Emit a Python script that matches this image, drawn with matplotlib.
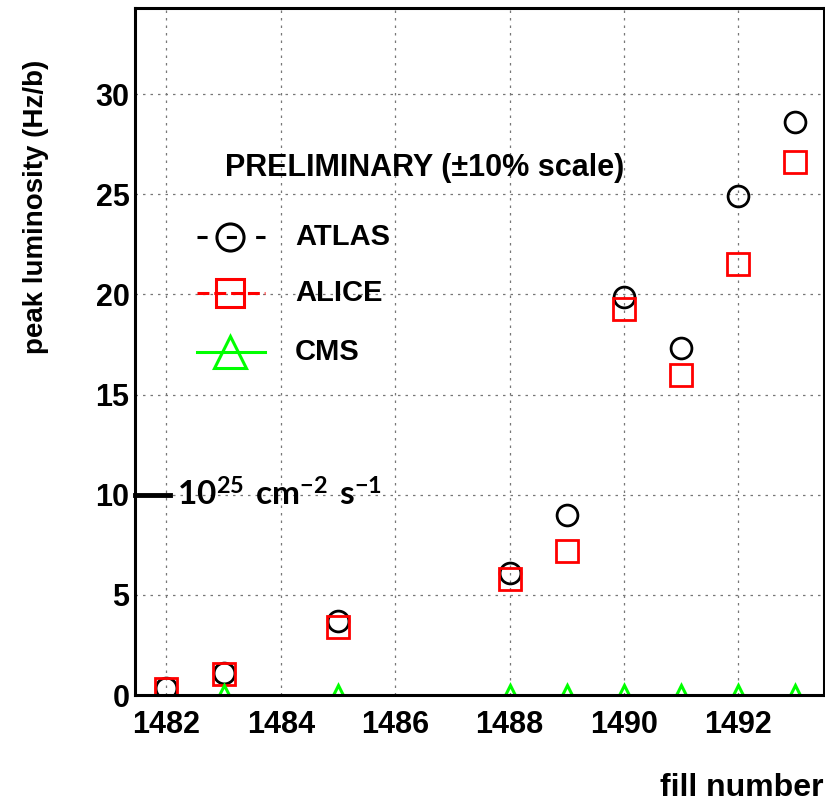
import matplotlib
matplotlib.use("Agg")
import matplotlib.pyplot as plt

fills = [1482, 1483, 1485, 1488, 1489, 1490, 1491, 1492, 1493]
atlas = [0.35, 1.1, 3.7, 6.1, 9.0, 19.85, 17.3, 24.9, 28.6]
alice = [0.3, 1.05, 3.4, 5.8, 7.2, 19.25, 16.0, 21.5, 26.6]
cms_fills = [1483, 1485, 1488, 1489, 1490, 1491, 1492, 1493]
cms = [0.0, 0.0, 0.0, 0.0, 0.0, 0.0, 0.0, 0.0]

x_ticks = [1482, 1484, 1486, 1488, 1490, 1492]
y_ticks = [0, 5, 10, 15, 20, 25, 30]

plt.rcParams["font.family"] = ["Liberation Sans", "DejaVu Sans"]
plt.rcParams["font.weight"] = "bold"
plt.rcParams["mathtext.fontset"] = "custom"
plt.rcParams["mathtext.rm"] = "Lato:bold"
plt.rcParams["mathtext.bf"] = "Lato:bold"

GREEN = "#00ff00"

fig = plt.figure(figsize=(8.25, 8.05), dpi=100)
ax = fig.add_axes([135 / 825, 110 / 805, 689 / 825, 687 / 805])

ax.plot(fills, atlas, linestyle="none", marker="o", markersize=15,
        markerfacecolor="none", markeredgecolor="black", markeredgewidth=2)
ax.plot(fills, alice, linestyle="none", marker="s", markersize=15.5,
        markerfacecolor="none", markeredgecolor="red", markeredgewidth=2)
ax.plot(cms_fills, cms, linestyle="none", marker="^", markersize=15,
        markerfacecolor="none", markeredgecolor=GREEN, markeredgewidth=2.2)

ax.set_xlim(1481.45, 1493.5)
ax.set_ylim(0, 34.3)
ax.set_xticks(x_ticks)
ax.set_yticks(y_ticks)
ax.grid(True, linestyle=(0, (2, 4)), color="#777777", linewidth=0.9)
ax.tick_params(axis="x", direction="in", length=0, labelsize=22, pad=11)
ax.tick_params(axis="y", direction="in", length=0, labelsize=22, pad=4)
for lbl in ax.get_xticklabels() + ax.get_yticklabels():
    lbl.set_fontweight("bold")
for s in ax.spines.values():
    s.set_linewidth(2.2)

ax.set_xlabel("fill number", fontsize=23, fontweight="bold")
ax.xaxis.set_label_coords(1.0, -0.135)
ax.xaxis.label.set_horizontalalignment("right")
ax.xaxis.label.set_verticalalignment("center")
ax.set_ylabel("peak luminosity (Hz/b)", fontsize=20, fontweight="bold")
ax.yaxis.set_label_coords(-0.143, 0.924)
ax.yaxis.label.set_horizontalalignment("right")
ax.yaxis.label.set_verticalalignment("center")

# unit reference mark at 10
ax.plot([0.0, 0.051], [10, 10], color="black", linewidth=3.5,
        transform=ax.get_yaxis_transform(), clip_on=False)
ax.text(0.061, 9.9, r"$\mathbf{10^{25}\ cm^{-2}\ s^{-1}}$", fontsize=24,
        va="center", ha="left", transform=ax.get_yaxis_transform())

# legend drawn ROOT-style in axes coordinates
ax.text(0.131, 0.767, "PRELIMINARY (±10% scale)", fontsize=22,
        fontweight="bold", va="center", ha="left", transform=ax.transAxes)

legend_rows = [
    ("ATLAS", "black", (0, (3.3, 6.3)), "o", 19.5, 0.667),
    ("ALICE", "red", (0, (3.9, 1.6)), "s", 20, 0.585),
    ("CMS", GREEN, "-", "^", 23, 0.499),
]
for name, col, ls, mk, ms, yy in legend_rows:
    ax.plot([0.090, 0.189], [yy, yy], color=col, linestyle=ls, linewidth=2.2,
            transform=ax.transAxes, clip_on=False)
    ax.plot([0.138], [yy], linestyle="none", marker=mk, markersize=ms,
            markerfacecolor="none", markeredgecolor=col, markeredgewidth=2.2,
            transform=ax.transAxes, clip_on=False)
    ax.text(0.232, yy, name, fontsize=21, fontweight="bold", va="center",
            ha="left", transform=ax.transAxes)

fig.savefig("out.png", dpi=100)
